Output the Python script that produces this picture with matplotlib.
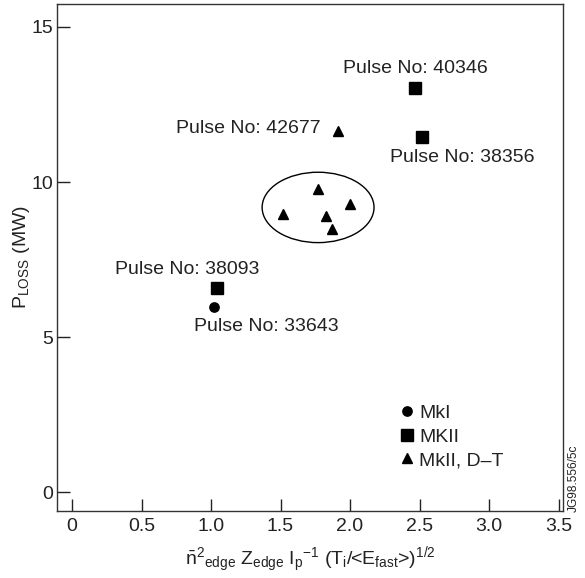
import matplotlib
matplotlib.use("Agg")
import matplotlib.pyplot as plt
from matplotlib.patches import Ellipse
from matplotlib.lines import Line2D

plt.rcParams["font.family"] = ["Liberation Sans", "DejaVu Sans"]
plt.rcParams["mathtext.fontset"] = "custom"
plt.rcParams["mathtext.rm"] = "Liberation Sans"
plt.rcParams["mathtext.it"] = "Liberation Sans:italic"

# MkI (circle), MKII (squares), MkII D-T (triangles)
mk1_x = [1.02]
mk1_y = [5.98]
mk2_x = [1.04, 2.47, 2.52]
mk2_y = [6.57, 13.02, 11.46]
dt_x = [1.91, 1.77, 2.00, 1.52, 1.83, 1.87]
dt_y = [11.65, 9.77, 9.29, 8.96, 8.91, 8.50]

# pulse labels: text, x, y, horizontal alignment
pulse_labels = ["Pulse No: 40346", "Pulse No: 42677", "Pulse No: 38356",
                "Pulse No: 38093", "Pulse No: 33643"]
pulse_x = [2.47, 1.79, 2.81, 0.83, 1.395]
pulse_y = [13.67, 11.73, 10.80, 7.18, 5.33]
pulse_ha = ["center", "right", "center", "center", "center"]

xticks = [0, 0.5, 1.0, 1.5, 2.0, 2.5, 3.0, 3.5]
xticklabels = ["0", "0.5", "1.0", "1.5", "2.0", "2.5", "3.0", "3.5"]
yticks = [0, 5, 10, 15]

fs = 14
ink = "#222222"
fig = plt.figure(figsize=(5.85, 5.78), dpi=100)
ax = fig.add_axes([0.0974, 0.116, 0.8646, 0.877])

ax.plot(mk1_x, mk1_y, "o", color="black", ms=6.7, ls="none")
ax.plot(mk2_x, mk2_y, "s", color="black", ms=8.4, ls="none")
ax.plot(dt_x, dt_y, "^", color="black", ms=7.8, ls="none")

ax.add_patch(Ellipse((1.77, 9.18), 0.805, 2.27, fill=False, lw=1.0, ec="black"))

for t, x, y, ha in zip(pulse_labels, pulse_x, pulse_y, pulse_ha):
    ax.text(x, y, t, ha=ha, va="center", fontsize=fs, color=ink)

ax.set_xlim(-0.108, 3.53)
ax.set_ylim(-0.61, 15.74)
ax.set_xticks(xticks)
ax.set_xticklabels(xticklabels)
ax.set_yticks(yticks)
ax.tick_params(direction="in", length=9, width=1, labelsize=fs, colors=ink)
ax.tick_params(axis="x", pad=5)
ax.tick_params(axis="y", pad=3)
for s in ax.spines.values():
    s.set_linewidth(1.0)
    s.set_color("#333333")

ax.set_ylabel(r"P$_{\mathrm{LOSS}}$ (MW)", fontsize=fs, labelpad=-1, color=ink)
ax.set_xlabel(r"$\bar{\mathrm{n}}^{2}{}_{\mathrm{edge}}$ Z$_{\mathrm{edge}}$ "
              r"I$_{\mathrm{p}}{}^{-1}$ "
              r"(T$_{\mathrm{i}}$/<E$_{\mathrm{fast}}$>)$^{1/2}$",
              fontsize=fs, labelpad=7, color=ink)

handles = [
    Line2D([], [], marker="o", color="black", ls="none", ms=6.7),
    Line2D([], [], marker="s", color="black", ls="none", ms=8.4),
    Line2D([], [], marker="^", color="black", ms=7.8, ls="none"),
]
ax.legend(handles, ["MkI", "MKII", "MkII, D\u2013T"], loc="upper left",
          bbox_to_anchor=(0.68, 0.21), frameon=False, fontsize=fs,
          handlelength=0.6, handletextpad=0.35, labelspacing=0.3,
          borderaxespad=0, borderpad=0, labelcolor=ink)

fig.text(0.981, 0.114, "JG98.556/5c", rotation=90, fontsize=8.6, ha="center", va="bottom",
         color=ink)

fig.savefig("out.png", dpi=100)
